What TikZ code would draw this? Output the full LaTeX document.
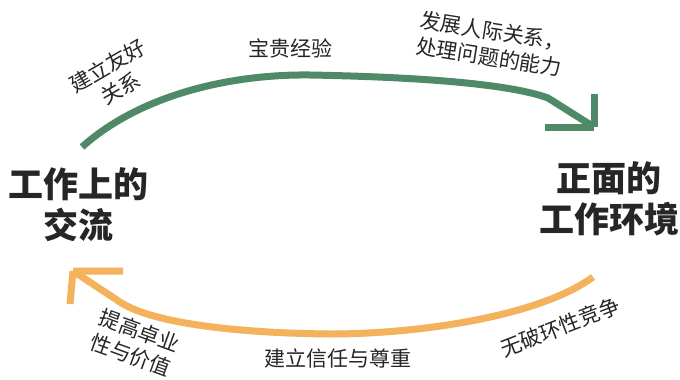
\documentclass[tikz,border=0pt]{standalone}
\usepackage{fontspec}
\newfontfamily\cjk{Noto Sans CJK SC}
\definecolor{pathgreen}{HTML}{4E8A67}
\definecolor{pathorange}{HTML}{F3B25B}
\definecolor{inkgray}{HTML}{262626}
\tikzset{
  bigtext/.style={text=inkgray, font=\cjk\bfseries\fontsize{35}{41}\selectfont, align=center, inner sep=0pt},
  smalltext/.style={text=inkgray, font=\cjk\fontsize{21}{26}\selectfont, align=center, inner sep=0pt},
  arc/.style={line width=7pt, line join=round}
}
\begin{document}
\begin{tikzpicture}[x=1pt,y=-1pt]
    \useasboundingbox[fill=white] (0,0) rectangle (680,380);
    % the two places
    \node[bigtext] (work) at (79,205) {工作上的\\交流};
    \node[bigtext] (place) at (609,199) {正面的\\工作环境};
    % green way up
    \coordinate (gstart) at (82,147);
    \coordinate (gtip) at (594,127);
    \draw[arc,pathgreen] (gstart) .. controls (140,95) and (230,74) .. (310,75) .. controls (420,77) and (510,84) .. (548,98) -- (gtip);
    \draw[arc,pathgreen] (gtip) -- ++(-49,0) (gtip) -- ++(0,-33);
    % orange way back
    \coordinate (ostart) at (593,277);
    \coordinate (otip) at (73,271);
    \draw[arc,pathorange] (ostart) .. controls (540,316) and (420,334) .. (330,334) .. controls (230,333) and (150,322) .. (120,302) -- (otip);
    \draw[arc,pathorange] (otip) -- ++(50,0) (otip) -- ++(-3,33);
    % what is on the way
    \node[smalltext, rotate=30] (friend) at (114,77) {建立友好\\关系};
    \node[smalltext] (lessons) at (290,48) {宝贵经验};
    \node[smalltext, rotate=-9] (skills) at (491,44) {发展人际关系，\\处理问题的能力};
    \node[smalltext, rotate=-20] (value) at (135,343) {提高卓业\\性与价值};
    \node[smalltext] (trust) at (338,358) {建立信任与尊重};
    \node[smalltext, rotate=21] (compete) at (560,327) {无破环性竞争};
\end{tikzpicture}
\end{document}
